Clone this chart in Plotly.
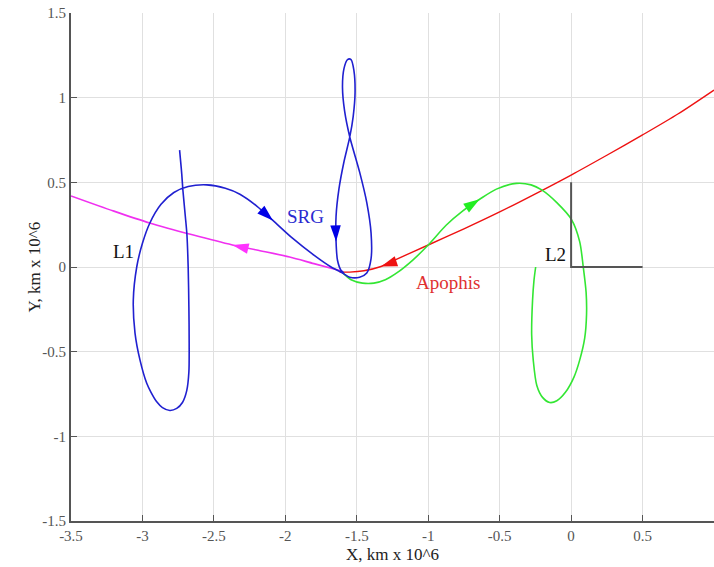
import plotly.graph_objects as go
import math

# ---- data (units: km x 10^6) ----
srg_x = [-2.74, -2.725, -2.717, -2.70, -2.689, -2.68, -2.675, -2.673, -2.675, -2.69, -2.72, -2.76,
         -2.808, -2.86, -2.90, -2.94, -2.97, -3.017, -3.052, -3.064, -3.04, -3.00, -2.948, -2.87,
         -2.78, -2.68, -2.55, -2.42, -2.318, -2.20, -2.087, -1.95, -1.80, -1.68, -1.60, -1.55,
         -1.48, -1.43, -1.40, -1.40, -1.43, -1.48, -1.549, -1.585, -1.60, -1.59, -1.565, -1.54,
         -1.52, -1.512, -1.525, -1.549, -1.59, -1.625, -1.645, -1.645, -1.635, -1.61, -1.59]
srg_y = [0.69, 0.55, 0.455, 0.30, 0.195, 0.0, -0.236, -0.45, -0.62, -0.73, -0.80, -0.835,
         -0.847, -0.83, -0.796, -0.74, -0.687, -0.55, -0.39, -0.195, 0.0, 0.14, 0.26, 0.37,
         0.44, 0.475, 0.485, 0.465, 0.43, 0.36, 0.275, 0.17, 0.07, 0.0, -0.035, -0.06,
         -0.06, -0.035, 0.05, 0.20, 0.38, 0.56, 0.768, 0.92, 1.06, 1.17, 1.225, 1.225,
         1.16, 1.03, 0.89, 0.768, 0.62, 0.46, 0.30, 0.15, 0.04, -0.02, -0.035]

green_x = [-1.598, -1.54, -1.46, -1.38, -1.30, -1.22, -1.108, -1.0, -0.873, -0.76, -0.64, -0.523,
           -0.383, -0.28, -0.206, -0.10, 0.003, 0.06, 0.085, 0.105, 0.108, 0.095, 0.06, 0.02,
           -0.04, -0.10, -0.15, -0.20, -0.24, -0.265, -0.276, -0.27, -0.26, -0.248]
green_y = [-0.035, -0.075, -0.095, -0.095, -0.075, -0.035, 0.041, 0.13, 0.248, 0.33, 0.40, 0.46,
           0.494, 0.485, 0.455, 0.38, 0.28, 0.15, 0.0, -0.15, -0.28, -0.42, -0.55, -0.65,
           -0.74, -0.79, -0.80, -0.77, -0.70, -0.55, -0.40, -0.20, -0.08, 0.0]

apophis_x = [1.0, 0.75, 0.5, 0.25, 0.0, -0.25, -0.5, -0.75, -1.0, -1.25, -1.33, -1.45, -1.55, -1.62]
apophis_y = [1.045, 0.905, 0.78, 0.66, 0.543, 0.432, 0.325, 0.225, 0.13, 0.035, 0.003, -0.022, -0.03, -0.03]

magenta_x = [-1.6, -1.8, -1.97, -2.2, -2.37, -2.65, -2.95, -3.2, -3.5]
magenta_y = [-0.025, 0.02, 0.059, 0.10, 0.13, 0.19, 0.26, 0.33, 0.42]

l2_x = [0.0, 0.0, 0.5]
l2_y = [0.5, 0.0, 0.0]

x_ticks = [-3.5, -3, -2.5, -2, -1.5, -1, -0.5, 0, 0.5, 1]
x_ticktext = ["-3.5", "-3", "-2.5", "-2", "-1.5", "-1", "-0.5", "0", "0.5", "1"]
y_ticks = [-1.5, -1, -0.5, 0, 0.5, 1, 1.5]
y_ticktext = ["-1.5", "-1", "-0.5", "0", "0.5", "1", "1.5"]

# arrow index into each series (head tip at that point)
arrows = [
    (srg_x, srg_y, 30, "#0000e6"),
    (srg_x, srg_y, 55, "#0000e6"),
    (green_x, green_y, 10, "#22ee22"),
    (apophis_x, apophis_y, 10, "#ee1111"),
    (magenta_x, magenta_y, 4, "#ff33ff"),
]

labels = [
    ("SRG", -1.86, 0.30, "#2a2ad0"),
    ("Apophis", -0.86, -0.09, "#e03030"),
    ("L1", -3.13, 0.09, "#111111"),
    ("L2", -0.11, 0.075, "#111111"),
]

FONT = "Liberation Serif, Times New Roman, serif"

fig = go.Figure()
fig.add_trace(go.Scatter(x=magenta_x, y=magenta_y, mode="lines",
                         line=dict(color="#f030f0", width=1.6, shape="spline", smoothing=0.8)))
fig.add_trace(go.Scatter(x=apophis_x, y=apophis_y, mode="lines",
                         line=dict(color="#ee1111", width=1.4, shape="spline", smoothing=0.8)))
fig.add_trace(go.Scatter(x=green_x, y=green_y, mode="lines",
                         line=dict(color="#33e633", width=1.6, shape="spline", smoothing=0.8)))
fig.add_trace(go.Scatter(x=srg_x, y=srg_y, mode="lines",
                         line=dict(color="#2020d0", width=1.6, shape="spline", smoothing=0.8)))
fig.add_trace(go.Scatter(x=l2_x, y=l2_y, mode="lines",
                         line=dict(color="#555555", width=2)))

W, H = 714, 567
ml, mr, mt, mb = 71, 0, 13, 46
xr = (-3.5, 1.0)
yr = (-1.5, 1.5)
sx = (W - ml - mr) / (xr[1] - xr[0])
sy = (H - mt - mb) / (yr[1] - yr[0])

for xs, ys, i, col in arrows:
    dx = (xs[i + 1] - xs[i - 1]) * sx
    dy = (ys[i + 1] - ys[i - 1]) * sy
    ang = math.degrees(math.atan2(dx, dy))
    fig.add_trace(go.Scatter(x=[xs[i]], y=[ys[i]], mode="markers",
                             marker=dict(symbol="arrow", size=17, angle=ang, color=col,
                                         line=dict(width=0))))

for t, x, y, c in labels:
    fig.add_annotation(x=x, y=y, text=t, showarrow=False,
                       font=dict(family=FONT, size=19, color=c))

fig.add_annotation(x=0.5, y=0, xref="paper", yref="paper",
                   text="X, km x 10^6", showarrow=False, yanchor="middle",
                   yshift=-33, font=dict(family=FONT, size=17, color="#222222"))
fig.add_annotation(x=0, y=0.5, xref="paper", yref="paper", xshift=-49,
                   text="Y, km x 10^6", showarrow=False, textangle=-90,
                   font=dict(family=FONT, size=17, color="#222222"))

fig.update_layout(
    width=W, height=H,
    margin=dict(l=ml, r=mr, t=mt, b=mb),
    paper_bgcolor="white", plot_bgcolor="white",
    showlegend=False,
    font=dict(family=FONT),
)
fig.update_xaxes(range=list(xr), tickvals=x_ticks, ticktext=x_ticktext, automargin=False,
                 showgrid=True, gridcolor="#e0e0e0", gridwidth=1, zeroline=False,
                 showline=True, linecolor="#555555", linewidth=2,
                 ticks="inside", ticklen=6, tickcolor="#555555",
                 tickfont=dict(family=FONT, size=15, color="#555555"))
fig.update_yaxes(range=list(yr), tickvals=y_ticks, ticktext=y_ticktext, automargin=False,
                 showgrid=True, gridcolor="#e0e0e0", gridwidth=1, zeroline=False,
                 showline=True, linecolor="#555555", linewidth=2,
                 ticks="inside", ticklen=6, tickcolor="#555555",
                 tickfont=dict(family=FONT, size=15, color="#555555"))

fig.write_html("out.html", config={"displayModeBar": False},
               post_script="document.body.style.margin='0';document.body.style.overflow='hidden';")
